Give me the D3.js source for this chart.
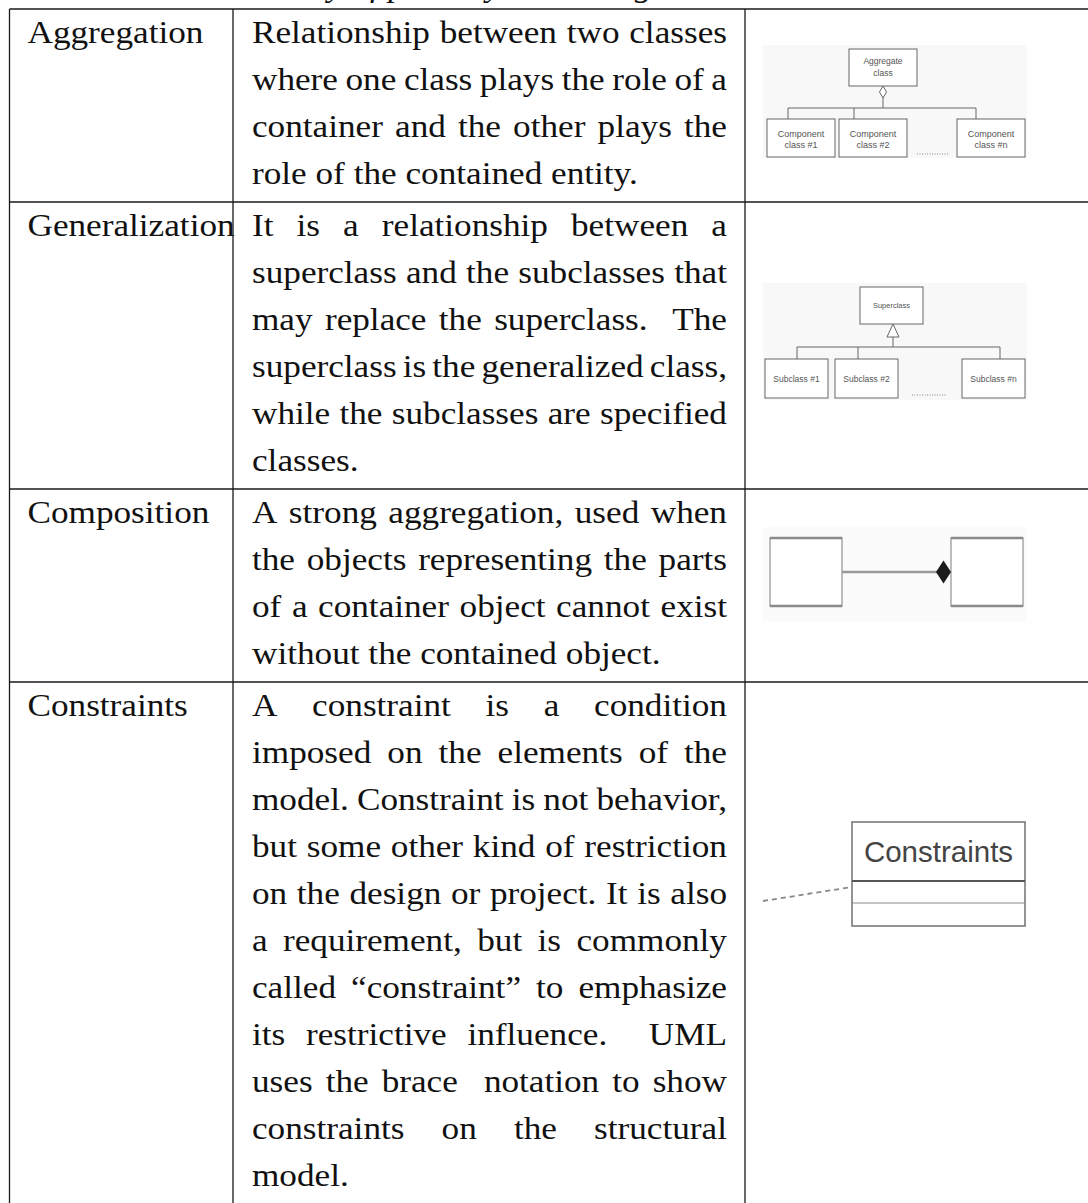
<!DOCTYPE html>
<html lang="en">
<head>
<meta charset="UTF-8">
<title>UML relationship notations</title>
<script src="https://d3js.org/d3.v7.min.js"></script>
<style>
  html, body { margin: 0; padding: 0; background: #fff; }
  svg { display: block; }
</style>
</head>
<body>
<div id="chart"></div>
<script>
  // ---- data -------------------------------------------------------------
  const captionText = "Table 2.1: Summary of primary class diagram notations";
  const terms = ["Aggregation", "Generalization", "Composition", "Constraints"];
  const aggregationLines = [
    "Relationship between two classes",
    "where one class plays the role of a",
    "container and the other plays the",
    "role of the contained entity."
  ];
  const generalizationLines = [
    "It is a relationship between a",
    "superclass and the subclasses that",
    "may replace the superclass.  The",
    "superclass is the generalized class,",
    "while the subclasses are specified",
    "classes."
  ];
  const compositionLines = [
    "A strong aggregation, used when",
    "the objects representing the parts",
    "of a container object cannot exist",
    "without the contained object."
  ];
  const constraintLines = [
    "A constraint is a condition",
    "imposed on the elements of the",
    "model. Constraint is not behavior,",
    "but some other kind of restriction",
    "on the design or project. It is also",
    "a requirement, but is commonly",
    "called \u201cconstraint\u201d to emphasize",
    "its restrictive influence.  UML",
    "uses the brace  notation to show",
    "constraints on the structural",
    "model."
  ];
  const descriptions = [aggregationLines, generalizationLines, compositionLines, constraintLines];

  const aggregateLabel = ["Aggregate", "class"];
  const componentLabels = [["Component", "class #1"], ["Component", "class #2"], ["Component", "class #n"]];
  const superclassLabel = "Superclass";
  const subclassLabels = ["Subclass #1", "Subclass #2", "Subclass #n"];
  const constraintLabel = "Constraints";

  // ---- layout -----------------------------------------------------------
  const width = 1088;
  const height = 1203;
  const serif = "'Liberation Serif', 'DejaVu Serif', serif";
  const sans = "'Liberation Sans', Arial, sans-serif";
  const fontSize = 32;
  const stretch = 1.1;          // widen Times-like glyphs towards Palatino widths
  const lineH = 47;
  const rowPad = 5;
  const firstBase = 34;
  const tableTop = 9;
  const colEdges = [9.5, 233, 745, 1120];
  const textPad = 18;

  const svg = d3.select("#chart")
    .append("svg")
    .attr("width", width)
    .attr("height", height);

  const measurer = svg.append("text")
    .attr("font-family", serif)
    .attr("font-size", fontSize)
    .attr("visibility", "hidden");

  function textW(s) {
    measurer.text(s);
    return measurer.node().getComputedTextLength();
  }
  const spaceW = textW("x x") - textW("xx");

  // row tops from line counts
  const rowTops = [tableTop];
  descriptions.forEach(lines => {
    rowTops.push(rowTops[rowTops.length - 1] + lines.length * lineH + rowPad);
  });

  // draw one line of text, optionally justified to width w
  function drawLine(parent, str, x, y, w, justify) {
    const tokens = str.split(/( +)/);
    const words = tokens.filter((_, i) => i % 2 === 0);
    const gaps = tokens.filter((_, i) => i % 2 === 1).map(s => s.length);
    const ww = words.map(textW);
    let extra = 0;
    if (justify && gaps.length) {
      const natural = d3.sum(ww) + d3.sum(gaps) * spaceW;
      extra = (w / stretch - natural) / d3.sum(gaps);
    }
    const t = parent.append("g")
      .attr("transform", `translate(${x},${y}) scale(${stretch},1)`)
      .append("text")
      .attr("font-family", serif)
      .attr("font-size", fontSize)
      .attr("fill", "#111");
    let cx = 0;
    words.forEach((wd, i) => {
      t.append("tspan").attr("x", cx).text(wd);
      cx += ww[i] + (i < gaps.length ? gaps[i] * (spaceW + extra) : 0);
    });
  }

  // ---- caption (mostly above the visible area) ---------------------------
  measurer.attr("font-style", "italic");
  const capPrefix = textW("Table 2.1: Summar");
  measurer.attr("font-style", null);
  svg.append("g")
    .attr("transform", `translate(${335 - capPrefix * stretch - 7},-4) scale(${stretch},1)`)
    .append("text")
    .attr("font-family", serif)
    .attr("font-style", "italic")
    .attr("font-size", fontSize)
    .attr("fill", "#111")
    .text(captionText);

  // ---- table text -------------------------------------------------------
  const textLayer = svg.append("g");
  descriptions.forEach((lines, r) => {
    const yLine = d3.scaleLinear()
      .domain([0, 1])
      .range([rowTops[r] + firstBase, rowTops[r] + firstBase + lineH]);
    drawLine(textLayer, terms[r], colEdges[0] + textPad, yLine(0), 0, false);
    const x0 = colEdges[1] + textPad + 1;
    const w = colEdges[2] - textPad - x0;
    lines.forEach((ln, i) => {
      drawLine(textLayer, ln, x0, yLine(i), w, i < lines.length - 1);
    });
  });

  // ---- table rules ------------------------------------------------------
  const rules = svg.append("g")
    .attr("stroke", "#1a1a1a")
    .attr("stroke-width", 1.3)
    .attr("fill", "none");
  rules.selectAll("line.h")
    .data(rowTops)
    .join("line")
    .attr("class", "h")
    .attr("x1", colEdges[0]).attr("x2", colEdges[3])
    .attr("y1", d => d).attr("y2", d => d);
  rules.selectAll("line.v")
    .data(colEdges)
    .join("line")
    .attr("class", "v")
    .attr("x1", d => d).attr("x2", d => d)
    .attr("y1", tableTop).attr("y2", rowTops[rowTops.length - 1]);

  // ---- diagrams ---------------------------------------------------------
  const rowCenter = r => (rowTops[r] + rowTops[r + 1]) / 2;
  const imgX = colEdges[2] + 18;

  function box(g, x, y, w, h, stroke, sw) {
    g.append("rect")
      .attr("x", x).attr("y", y).attr("width", w).attr("height", h)
      .attr("fill", "#fff").attr("stroke", stroke).attr("stroke-width", sw);
  }
  function label(g, lines, cx, y0, size, dy) {
    lines.forEach((s, i) => {
      g.append("text")
        .attr("x", cx).attr("y", y0 + i * dy)
        .attr("text-anchor", "middle")
        .attr("font-family", sans)
        .attr("font-size", size)
        .attr("fill", "#555")
        .text(s);
    });
  }

  // Aggregation
  (function () {
    const h = 113;
    const g = svg.append("g").attr("transform", `translate(${imgX},${rowCenter(0) - 4 - h / 2})`);
    g.append("rect").attr("width", 264).attr("height", h).attr("fill", "#f8f8f8");
    const line = (x1, y1, x2, y2) => g.append("line")
      .attr("x1", x1).attr("y1", y1).attr("x2", x2).attr("y2", y2)
      .attr("stroke", "#666").attr("stroke-width", 1);
    box(g, 86, 4, 68, 37, "#666", 1);
    label(g, aggregateLabel, 120, 19, 8.5, 12);
    g.append("path")
      .attr("d", "M120,41 L123.5,47 L120,53 L116.5,47 Z")
      .attr("fill", "#fff").attr("stroke", "#666").attr("stroke-width", 1);
    line(120, 53, 120, 63);
    line(25, 63, 213, 63);
    const comps = [[4, 25], [76, 91], [194, 213]];
    comps.forEach(([bx, dx], i) => {
      line(dx, 63, dx, 74);
      box(g, bx, 74, 68, 38, "#666", 1);
      label(g, componentLabels[i], bx + 34, 91.5, 9, 11.5);
    });
    line(154, 109, 186, 109).attr("stroke-dasharray", "1,1.5").attr("stroke", "#888");
  })();

  // Generalization
  (function () {
    const h = 117;
    const g = svg.append("g").attr("transform", `translate(${imgX},${rowCenter(1) - 4 - h / 2})`);
    g.append("rect").attr("width", 264).attr("height", h).attr("fill", "#f8f8f8");
    const line = (x1, y1, x2, y2) => g.append("line")
      .attr("x1", x1).attr("y1", y1).attr("x2", x2).attr("y2", y2)
      .attr("stroke", "#666").attr("stroke-width", 1);
    box(g, 97, 4, 63, 37, "#666", 1);
    label(g, [superclassLabel], 128.5, 25, 7.5, 0);
    g.append("path")
      .attr("d", "M130,41 L136,54 L124,54 Z")
      .attr("fill", "#fff").attr("stroke", "#666").attr("stroke-width", 1);
    line(130, 54, 130, 64);
    line(34, 64, 237, 64);
    const subs = [[2, 34], [72, 95], [199, 237]];
    subs.forEach(([bx, dx], i) => {
      line(dx, 64, dx, 76);
      box(g, bx, 76, 63, 39, "#666", 1);
      label(g, [subclassLabels[i]], bx + 31.5, 98.5, 8.5, 0);
    });
    line(149, 112, 184, 112).attr("stroke-dasharray", "1,1.5").attr("stroke", "#888");
  })();

  // Composition
  (function () {
    const h = 95;
    const g = svg.append("g").attr("transform", `translate(${imgX},${rowCenter(2) - 11 - h / 2})`);
    g.append("rect").attr("width", 264).attr("height", h).attr("fill", "#fbfbfb");
    [7, 188].forEach(bx => {
      box(g, bx, 11, 72, 68, "#9a9a9a", 1.3);
      g.append("line").attr("x1", bx).attr("x2", bx + 72).attr("y1", 11).attr("y2", 11)
        .attr("stroke", "#8a8a8a").attr("stroke-width", 2.6);
      g.append("line").attr("x1", bx).attr("x2", bx + 72).attr("y1", 79).attr("y2", 79)
        .attr("stroke", "#8a8a8a").attr("stroke-width", 2.6);
    });
    g.append("line").attr("x1", 79).attr("x2", 175).attr("y1", 45).attr("y2", 45)
      .attr("stroke", "#999").attr("stroke-width", 2.6);
    g.append("path")
      .attr("d", "M173,45 L180.5,33.5 L188,45 L180.5,56.5 Z")
      .attr("fill", "#1c1c1c");
  })();

  // Constraints
  (function () {
    const g = svg.append("g").attr("transform", `translate(${imgX},${rowCenter(3) - 69 - 52})`);
    g.append("line").attr("x1", 0).attr("y1", 79).attr("x2", 89).attr("y2", 65)
      .attr("stroke", "#888").attr("stroke-width", 1.8).attr("stroke-dasharray", "5,4");
    box(g, 89, 0, 173, 104, "#707070", 1.5);
    g.append("line").attr("x1", 89).attr("x2", 262).attr("y1", 59).attr("y2", 59)
      .attr("stroke", "#555").attr("stroke-width", 2);
    g.append("line").attr("x1", 89).attr("x2", 262).attr("y1", 81).attr("y2", 81)
      .attr("stroke", "#888").attr("stroke-width", 1.2);
    g.append("text")
      .attr("x", 175.5).attr("y", 40)
      .attr("text-anchor", "middle")
      .attr("font-family", sans)
      .attr("font-size", 29.5)
      .attr("fill", "#444")
      .text(constraintLabel);
  })();

  measurer.remove();
</script>
</body>
</html>
